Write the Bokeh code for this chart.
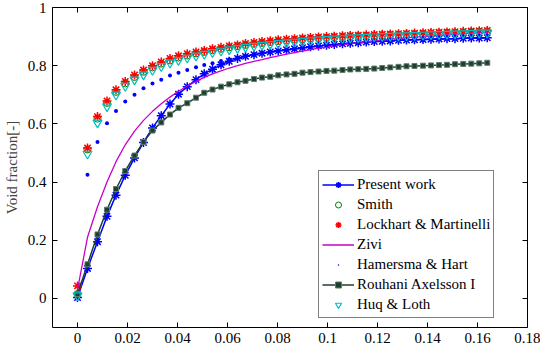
from bokeh.plotting import figure
from bokeh.models import Range1d, LinearAxis, FixedTicker, Legend, LegendItem
from bokeh.embed import file_html
from bokeh.resources import INLINE

quality = [0.0, 0.004, 0.008, 0.0118, 0.0154, 0.0191, 0.0228, 0.0264, 0.0300, 0.0335,
           0.0370, 0.0404, 0.0439, 0.0474, 0.0507, 0.0540, 0.0574, 0.0607, 0.0640, 0.0672,
           0.0706, 0.0738, 0.0771, 0.0803, 0.0836, 0.0868, 0.0900, 0.0932, 0.0964, 0.0996,
           0.1027, 0.1060, 0.1091, 0.1123, 0.1155, 0.1187, 0.1219, 0.1251, 0.1284, 0.1316,
           0.1348, 0.1382, 0.1414, 0.1446, 0.1478, 0.1510, 0.1543, 0.1575, 0.1607, 0.1639]

present_work = [0.003, 0.103, 0.195, 0.282, 0.355, 0.423, 0.483, 0.536, 0.586, 0.628,
                0.668, 0.702, 0.728, 0.752, 0.772, 0.788, 0.803, 0.815, 0.825, 0.832,
                0.838, 0.843, 0.847, 0.851, 0.855, 0.858, 0.862, 0.865, 0.868, 0.870,
                0.873, 0.875, 0.877, 0.879, 0.881, 0.883, 0.884, 0.885, 0.887, 0.888,
                0.889, 0.890, 0.891, 0.892, 0.893, 0.893, 0.894, 0.895, 0.895, 0.896]

smith = [0.015, 0.512, 0.618, 0.672, 0.710, 0.739, 0.761, 0.779, 0.794, 0.807,
         0.818, 0.828, 0.835, 0.842, 0.847, 0.853, 0.858, 0.863, 0.867, 0.871,
         0.875, 0.878, 0.881, 0.884, 0.886, 0.889, 0.891, 0.893, 0.895, 0.896,
         0.898, 0.899, 0.901, 0.902, 0.903, 0.904, 0.905, 0.906, 0.907, 0.908,
         0.909, 0.910, 0.911, 0.912, 0.913, 0.914, 0.915, 0.916, 0.917, 0.918]

lockhart = [0.043, 0.517, 0.625, 0.679, 0.717, 0.746, 0.768, 0.785, 0.800, 0.813,
            0.825, 0.834, 0.841, 0.847, 0.852, 0.858, 0.863, 0.868, 0.871, 0.876,
            0.880, 0.883, 0.886, 0.889, 0.891, 0.893, 0.895, 0.897, 0.899, 0.900,
            0.901, 0.903, 0.904, 0.905, 0.906, 0.907, 0.908, 0.909, 0.910, 0.911,
            0.912, 0.913, 0.914, 0.915, 0.916, 0.917, 0.918, 0.919, 0.920, 0.921]

zivi = [0.030, 0.210, 0.315, 0.400, 0.470, 0.528, 0.575, 0.612, 0.643, 0.669,
        0.692, 0.712, 0.730, 0.746, 0.760, 0.772, 0.782, 0.792, 0.800, 0.808,
        0.815, 0.821, 0.828, 0.834, 0.840, 0.845, 0.850, 0.855, 0.860, 0.864,
        0.868, 0.872, 0.876, 0.879, 0.882, 0.885, 0.888, 0.891, 0.893, 0.896,
        0.898, 0.900, 0.902, 0.904, 0.906, 0.908, 0.910, 0.912, 0.913, 0.915]

hamersma = [0.020, 0.425, 0.538, 0.602, 0.644, 0.677, 0.700, 0.722, 0.739, 0.752,
            0.766, 0.776, 0.785, 0.795, 0.802, 0.808, 0.816, 0.822, 0.828, 0.833,
            0.838, 0.843, 0.847, 0.851, 0.855, 0.858, 0.862, 0.865, 0.868, 0.871,
            0.873, 0.876, 0.878, 0.880, 0.882, 0.884, 0.886, 0.888, 0.890, 0.891,
            0.893, 0.894, 0.896, 0.897, 0.898, 0.900, 0.901, 0.902, 0.903, 0.904]

rouhani = [0.015, 0.117, 0.220, 0.305, 0.376, 0.438, 0.491, 0.538, 0.577, 0.605,
           0.632, 0.655, 0.671, 0.690, 0.707, 0.718, 0.728, 0.736, 0.743, 0.748,
           0.754, 0.759, 0.762, 0.767, 0.770, 0.772, 0.776, 0.778, 0.780, 0.782,
           0.783, 0.785, 0.787, 0.788, 0.789, 0.790, 0.792, 0.794, 0.796, 0.798,
           0.799, 0.800, 0.801, 0.802, 0.803, 0.805, 0.806, 0.807, 0.808, 0.810]

huq_loth = [0.010, 0.497, 0.604, 0.660, 0.700, 0.730, 0.752, 0.769, 0.785, 0.798,
            0.810, 0.819, 0.827, 0.834, 0.840, 0.846, 0.851, 0.856, 0.860, 0.864,
            0.868, 0.871, 0.874, 0.877, 0.880, 0.882, 0.885, 0.887, 0.889, 0.891,
            0.893, 0.894, 0.896, 0.897, 0.899, 0.900, 0.901, 0.902, 0.903, 0.904,
            0.905, 0.906, 0.907, 0.908, 0.909, 0.910, 0.911, 0.912, 0.913, 0.913]

x_ticks = [0, 0.02, 0.04, 0.06, 0.08, 0.1, 0.12, 0.14, 0.16, 0.18]
x_tick_labels = ["0", "0.02", "0.04", "0.06", "0.08", "0.1", "0.12", "0.14", "0.16", "0.18"]
y_ticks = [0, 0.2, 0.4, 0.6, 0.8, 1.0]
y_tick_labels = ["0", "0.2", "0.4", "0.6", "0.8", "1"]

FONT = "Liberation Serif"

p = figure(width=540, height=351, output_backend="svg", toolbar_location=None,
           x_range=Range1d(-0.01, 0.18), y_range=Range1d(-0.1, 1.0),
           min_border_left=52, min_border_right=13, min_border_top=7, min_border_bottom=24)
p.outline_line_color = None
p.xgrid.visible = False
p.ygrid.visible = False
p.background_fill_color = "white"
p.border_fill_color = "white"

def style_axis(ax, ticks, labels, show_labels=True):
    ax.ticker = FixedTicker(ticks=ticks)
    ax.minor_tick_line_color = None
    ax.major_tick_in = 5
    ax.major_tick_out = 0
    ax.axis_line_color = "black"
    ax.major_tick_line_color = "black"
    ax.axis_line_width = 1
    if show_labels:
        ax.major_label_overrides = {t: l for t, l in zip(ticks, labels)}
        ax.major_label_text_font = FONT
        ax.major_label_text_font_size = "15px"
        ax.major_label_text_color = "black"
        ax.major_label_standoff = 5
    else:
        ax.major_label_text_font_size = "1px"
        ax.major_label_text_color = None
        ax.major_label_standoff = 0

style_axis(p.xaxis[0], x_ticks, x_tick_labels)
style_axis(p.yaxis[0], y_ticks, y_tick_labels)
p.yaxis[0].axis_label = "Void fraction[-]"
p.yaxis[0].axis_label_text_font = FONT
p.yaxis[0].axis_label_text_font_size = "15px"
p.yaxis[0].axis_label_text_font_style = "normal"
p.yaxis[0].axis_label_standoff = 5
p.yaxis[0].major_label_standoff = 6

top_ax = LinearAxis()
style_axis(top_ax, x_ticks, x_tick_labels, show_labels=False)
p.add_layout(top_ax, "above")
right_ax = LinearAxis()
style_axis(right_ax, y_ticks, y_tick_labels, show_labels=False)
p.add_layout(right_ax, "right")

# Present work
r1l = p.line(quality, present_work, line_color="#0000FF", line_width=1.5)
r1m = p.scatter(quality, present_work, marker="asterisk", size=9, line_color="#0000FF", line_width=1.5)
# Smith
r2 = p.scatter(quality, smith, marker="circle", size=7, line_color="#008000", fill_color=None, line_width=1)
# Lockhart & Martinelli
r3 = p.scatter(quality, lockhart, marker="asterisk", size=9, line_color="#FF0000", line_width=1.5)
# Zivi
r4 = p.line(quality, zivi, line_color="#C800C8", line_width=1.3)
# Hamersma & Hart
r5 = p.scatter(quality, hamersma, marker="dot", size=16, line_color="#0000FF", fill_color="#0000FF", line_width=2)
# Rouhani Axelsson I
r6l = p.line(quality, rouhani, line_color="#1E3F2E", line_width=1.5)
r6m = p.scatter(quality, rouhani, marker="square", size=5, line_color="#5E7B6C", fill_color="#1E3F2E", line_width=1)
# Huq & Loth
r7 = p.scatter(quality, huq_loth, marker="inverted_triangle", size=9, line_color="#00BFBF", fill_color=None, line_width=1.2)

legend = Legend(items=[
    LegendItem(label="Present work", renderers=[r1l, r1m]),
    LegendItem(label="Smith", renderers=[r2]),
    LegendItem(label="Lockhart & Martinelli", renderers=[r3]),
    LegendItem(label="Zivi", renderers=[r4]),
    LegendItem(label="Hamersma & Hart", renderers=[r5]),
    LegendItem(label="Rouhani Axelsson I", renderers=[r6l, r6m]),
    LegendItem(label="Huq & Loth", renderers=[r7]),
], location=(266, 9))
legend.label_text_font = FONT
legend.label_text_font_size = "15px"
legend.label_text_color = "black"
legend.glyph_width = 32
legend.glyph_height = 15
legend.label_height = 20
legend.label_standoff = 3
legend.spacing = 0
legend.padding = 3
legend.margin = 0
legend.border_line_color = "black"
legend.border_line_width = 1
legend.background_fill_color = "white"
legend.background_fill_alpha = 1
p.add_layout(legend, "center")

open("out.html", "w").write(file_html(p, INLINE))
